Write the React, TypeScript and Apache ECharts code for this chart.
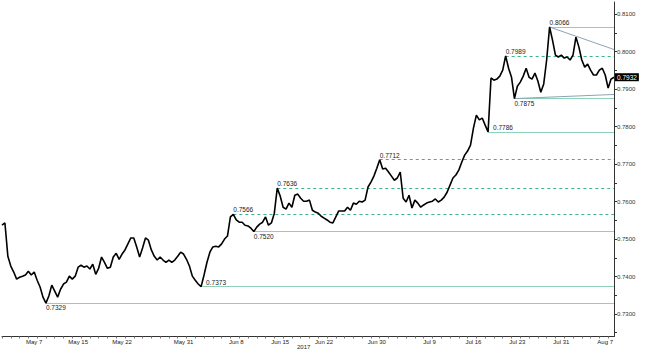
import React, { useEffect, useRef } from "react";
import * as echarts from "echarts";

// AUD/USD, three intraday periods per trading day, 3 May – 8 Aug 2017
const firstDay = "2017-05-03";
const lastDay = "2017-08-08";
const periodsPerDay = 3;

const values = [
  0.7537, 0.7543, 0.7454, 0.7428, 0.7412, 0.7393, 0.7398, 0.7401, 0.7404, 0.7414,
  0.7404, 0.7412, 0.7390, 0.7372, 0.7345, 0.7329, 0.7348, 0.7377, 0.7361, 0.7345,
  0.7366, 0.7380, 0.7385, 0.7401, 0.7393, 0.7401, 0.7425, 0.7430, 0.7425, 0.7428,
  0.7420, 0.7433, 0.7406, 0.7422, 0.7452, 0.7438, 0.7422, 0.7425, 0.7452, 0.7462,
  0.7446, 0.7460, 0.7471, 0.7487, 0.7503, 0.7503, 0.7479, 0.7452, 0.7476, 0.7503,
  0.7497, 0.7471, 0.7454, 0.7444, 0.7452, 0.7444, 0.7438, 0.7444, 0.7438, 0.7444,
  0.7454, 0.7465, 0.7460, 0.7446, 0.7428, 0.7401, 0.7390, 0.7380, 0.7373, 0.7404,
  0.7438, 0.7465, 0.7479, 0.7481, 0.7479, 0.7487, 0.7500, 0.7508, 0.7559, 0.7566,
  0.7551, 0.7545, 0.7545, 0.7537, 0.7535, 0.7529, 0.7520, 0.7532, 0.7540, 0.7545,
  0.7559, 0.7537, 0.7543, 0.7569, 0.7636, 0.7615, 0.7585, 0.7580, 0.7596, 0.7585,
  0.7617, 0.7620, 0.7609, 0.7601, 0.7601, 0.7604, 0.7577, 0.7572, 0.7569, 0.7561,
  0.7556, 0.7551, 0.7545, 0.7543, 0.7559, 0.7575, 0.7575, 0.7575, 0.7585, 0.7577,
  0.7596, 0.7593, 0.7601, 0.7599, 0.7604, 0.7639, 0.7652, 0.7668, 0.7689, 0.7712,
  0.7687, 0.7689, 0.7679, 0.7668, 0.7657, 0.7663, 0.7679, 0.7609, 0.7599, 0.7617,
  0.7583, 0.7604, 0.7596, 0.7585, 0.7591, 0.7596, 0.7599, 0.7601, 0.7607, 0.7599,
  0.7604, 0.7612, 0.7625, 0.7644, 0.7663, 0.7671, 0.7684, 0.7705, 0.7724, 0.7735,
  0.7751, 0.7796, 0.7831, 0.7818, 0.7823, 0.7804, 0.7786, 0.7930, 0.7924, 0.7927,
  0.7935, 0.7951, 0.7989, 0.7956, 0.7932, 0.7875, 0.7908, 0.7919, 0.7935, 0.7956,
  0.7932, 0.7927, 0.7943, 0.7922, 0.7892, 0.7914, 0.7978, 0.8066, 0.8031, 0.7991,
  0.7986, 0.7991, 0.7983, 0.7986, 0.7978, 0.7991, 0.8039, 0.8013, 0.7978, 0.7959,
  0.7967, 0.7951, 0.7938, 0.7938, 0.7951, 0.7956, 0.7938, 0.7903, 0.7927, 0.7932,
];

const yTickValues = [0.73, 0.74, 0.75, 0.76, 0.77, 0.78, 0.79, 0.8, 0.81];
const yMin = 0.72399;
const yMax = 0.81328;

const tickDays = [
  "2017-05-08", "2017-05-15", "2017-05-22", "2017-05-31", "2017-06-08",
  "2017-06-15", "2017-06-22", "2017-06-30", "2017-07-10", "2017-07-17",
  "2017-07-24", "2017-07-31", "2017-08-07",
];
const tickLabels = [
  "May 7", "May 15", "May 22", "May 31", "Jun 8", "Jun 15", "Jun 22",
  "Jun 30", "Jul 9", "Jul 16", "Jul 23", "Jul 31", "Aug 7",
];
const yearLabel = "2017";

const levels = [0.7329, 0.7373, 0.752, 0.7566, 0.7636, 0.7712, 0.7786, 0.7875, 0.7989, 0.8066];
const dashedLevels = [0.7566, 0.7636, 0.7712, 0.7989];
const labelBelowLevels = [0.7329, 0.752, 0.7875];
const labelRightLevels = [0.7373, 0.7786];

const upperTrend = [0.8066, 0.8006];
const lowerTrend = [0.7875, 0.7886];
const lastPrice = 0.7932;

const FONT = "Liberation Sans, Arial, sans-serif";

function buildCalendar() {
  const cats: string[] = [];
  const dayIndex: Record<string, number> = {};
  const d = new Date(firstDay + "T00:00:00Z");
  const end = new Date(lastDay + "T00:00:00Z").getTime();
  let n = 0;
  while (d.getTime() <= end) {
    const wd = d.getUTCDay();
    if (wd !== 0 && wd !== 6) {
      const iso = d.toISOString().slice(0, 10);
      dayIndex[iso] = n;
      for (let p = 0; p < periodsPerDay; p++) cats.push(iso + " P" + (p + 1));
      n++;
    }
    d.setUTCDate(d.getUTCDate() + 1);
  }
  return { cats, dayIndex };
}

export default function App() {
  const ref = useRef<HTMLDivElement>(null);

  useEffect(() => {
    if (!ref.current) return;
    const chart = echarts.init(ref.current, undefined, { renderer: "svg" });
    const { cats, dayIndex } = buildCalendar();
    const lastIdx = values.length - 1;

    const labelAt: Record<number, string> = {};
    tickDays.forEach((day, i) => {
      labelAt[dayIndex[day] * periodsPerDay + periodsPerDay - 1] = tickLabels[i];
    });

    const minorTicks: number[] = [];
    yTickValues.forEach((v) => {
      minorTicks.push(v);
      minorTicks.push(+(v + 0.005).toFixed(4));
    });
    minorTicks.push(+(yTickValues[0] - 0.005).toFixed(4));

    const levelLines = levels.map((lv) => {
      const i = values.indexOf(lv);
      const dashed = dashedLevels.includes(lv);
      const below = labelBelowLevels.includes(lv);
      const right = labelRightLevels.includes(lv);
      const style = {
        lineStyle: {
          color: dashed ? "#3db58b" : "#8dd2b8",
          width: 1,
          type: dashed ? [3, 3] : "solid",
          opacity: 1,
        },
        label: {
          show: true,
          position: below ? "insideStartBottom" : "insideStartTop",
          distance: right ? [5, 1] : [0, 1],
          formatter: lv.toFixed(4),
          color: "#1a1a1a",
          fontSize: 6.5,
          fontFamily: FONT,
        },
      };
      return [
        { coord: [i, lv], ...style },
        { coord: [lastIdx, lv], ...style },
      ];
    });

    const trendStyle = {
      lineStyle: { color: "#8ea3b3", width: 1, type: "solid" },
      label: { show: false },
    };
    const trendLines = [
      [
        { coord: [values.indexOf(upperTrend[0]), upperTrend[0]], ...trendStyle },
        { coord: [lastIdx, upperTrend[1]], ...trendStyle },
      ],
      [
        { coord: [values.indexOf(lowerTrend[0]), lowerTrend[0]], ...trendStyle },
        { coord: [lastIdx, lowerTrend[1]], ...trendStyle },
      ],
    ];

    const lastStyle = {
      lineStyle: { color: "rgba(0,0,0,0)", width: 0 },
      label: {
        show: true,
        position: "end",
        distance: 1,
        formatter: lastPrice.toFixed(4),
        color: "#fff",
        backgroundColor: "#000",
        padding: [1, 2, 0, 2],
        fontSize: 6.5,
        fontFamily: FONT,
        opacity: 1,
      },
    };
    const lastLine = [
      { coord: [lastIdx - 1, lastPrice], ...lastStyle },
      { coord: [lastIdx, lastPrice], ...lastStyle },
    ];

    chart.setOption({
      animation: false,
      backgroundColor: "#fff",
      textStyle: { fontFamily: FONT },
      grid: {
        left: 2,
        right: 35,
        top: 2,
        bottom: 25.5,
        containLabel: false,
        outerBoundsMode: "none",
      },
      xAxis: {
        type: "category",
        data: cats,
        boundaryGap: false,
        axisLine: { lineStyle: { color: "#333", width: 1 } },
        axisTick: {
          show: true,
          interval: (i: number) => i % periodsPerDay === 0,
          length: 2,
          lineStyle: { color: "#777" },
        },
        axisLabel: {
          show: true,
          interval: (i: number) => labelAt[i] !== undefined,
          formatter: (_v: string, i: number) => labelAt[i] || "",
          fontSize: 6,
          color: "#222",
          margin: 2,
          fontFamily: FONT,
        },
        splitLine: { show: false },
      },
      yAxis: {
        type: "value",
        position: "right",
        min: yMin,
        max: yMax,
        axisLine: { show: true, lineStyle: { color: "#333", width: 1 } },
        axisTick: {
          show: true,
          length: 3,
          customValues: minorTicks,
          lineStyle: { color: "#333" },
        },
        axisLabel: {
          show: true,
          customValues: yTickValues,
          formatter: (v: number) => v.toFixed(4),
          fontSize: 6,
          color: "#333",
          margin: 3,
          fontFamily: FONT,
        },
        splitLine: { show: false },
      },
      series: [
        {
          type: "line",
          data: values,
          symbol: "none",
          clip: false,
          lineStyle: { color: "#000", width: 1.6 },
          z: 5,
          markLine: {
            silent: true,
            symbol: ["none", "none"],
            animation: false,
            data: [...levelLines, ...trendLines, lastLine],
          },
        },
      ],
      graphic: [
        {
          type: "text",
          left: 297,
          top: 344,
          style: { text: yearLabel, fontSize: 6, fill: "#222", fontFamily: FONT },
        },
      ],
    });

    return () => chart.dispose();
  }, []);

  return (
    <div
      ref={ref}
      style={{ position: "fixed", left: 0, top: 0, width: 649, height: 362 }}
    />
  );
}
